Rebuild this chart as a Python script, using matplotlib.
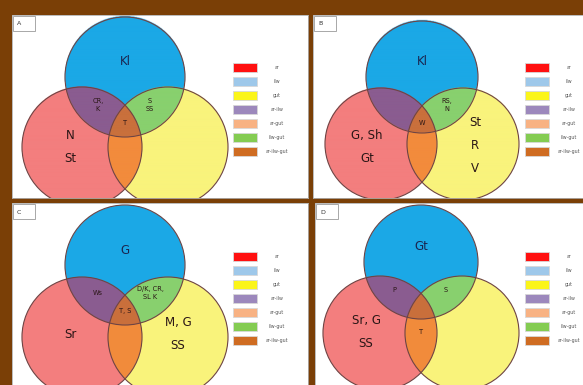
import matplotlib
matplotlib.use("Agg")
import matplotlib.pyplot as plt
from matplotlib.patches import Circle, Rectangle
from matplotlib.colors import ListedColormap
import numpy as np

W, H = 583, 385

# panel letters and the labels written in each Venn region
panel_names = ["A", "B", "C", "D"]
blue_text = ["Kl", "Kl", "G", "Gt"]
pink_text = ["N\nSt", "G, Sh\nGt", "Sr", "Sr, G\nSS"]
yellow_text = ["", "St\nR\nV", "M, G\nSS", ""]
purple_text = ["CR,\nK", "", "Ws", "P"]
green_text = ["S\nSS", "RS,\nN", "D/K, CR,\nSL K", "S"]
center_text = ["T", "W", "T, S", ""]
lower_text = ["", "", "", "T"]

legend_labels = ["ar", "ilw", "gut", "ar-ilw", "ar-gut", "ilw-gut", "ar-ilw-gut"]
legend_colors = ["#ff1010", "#9ec8ea", "#fbf51a", "#9c88bc",
                 "#f8b283", "#84cc52", "#cf6c22"]

# region fills: none, blue, pink, blue+pink, yellow, blue+yellow, pink+yellow, all
region_colors = ["#ffffff", "#1ba8e6", "#f37e7e", "#8a5c90",
                 "#f9f37c", "#88d06e", "#f28b3c", "#c9703c"]

# panel boxes in pixels (left, top, width, height)
panels = [(12, 15, 296, 183), (313, 15, 270, 183),
          (12, 203, 296, 182), (315, 203, 268, 182)]
# blue circle centre, radius and offsets of the lower circles per panel
geom = [(113, 62, 60, 43, 70), (109, 62, 56, 41, 67),
        (113, 62, 60, 43, 72), (106, 59, 57, 41, 71)]
legend_pos = [(221, 48), (212, 48), (221, 49), (210, 49)]

fig = plt.figure(figsize=(W / 100, H / 100), dpi=100)
fig.patch.set_facecolor("#7a3f06")
cmap = ListedColormap(region_colors)
txt = "#2a1616"

for k in range(4):
    px, py, pw, ph = panels[k]
    ax = fig.add_axes([px / W, 1 - (py + ph) / H, pw / W, ph / H])
    ax.set_xlim(0, pw)
    ax.set_ylim(ph, 0)
    ax.set_xticks([])
    ax.set_yticks([])
    for s in ax.spines.values():
        s.set_color("#b0b0b0")
        s.set_linewidth(0.6)

    bx, by, r, dx, dy = geom[k]
    centres = [(bx, by), (bx - dx, by + dy), (bx + dx, by + dy)]

    # rasterise the three circles into region codes
    xs = np.arange(0, pw, 0.5) + 0.25
    ys = np.arange(0, ph, 0.5) + 0.25
    X, Y = np.meshgrid(xs, ys)
    code = np.zeros(X.shape, dtype=int)
    for bit, (cx, cy) in zip([1, 2, 4], centres):
        code += bit * (((X - cx) ** 2 + (Y - cy) ** 2) <= r ** 2)
    ax.imshow(code, cmap=cmap, vmin=-0.5, vmax=7.5, extent=(0, pw, ph, 0),
              interpolation="bilinear", aspect="auto", zorder=1)
    for cx, cy in centres:
        ax.add_patch(Circle((cx, cy), r, fill=False, ec="#6e4444",
                            lw=0.8, zorder=2))

    # region labels
    big = dict(ha="center", va="center", color=txt, fontsize=8.5,
               linespacing=2.0, zorder=3)
    small = dict(ha="center", va="center", color=txt, fontsize=4.8,
                 linespacing=1.5, zorder=3)
    ax.text(bx, by - 15, blue_text[k], **dict(big, color="#1a2550"))
    ax.text(bx - 55, by + 70, pink_text[k], **big)
    ax.text(bx + 53, by + 69, yellow_text[k], **big)
    ax.text(bx - 27, by + 28, purple_text[k], **small)
    ax.text(bx + 25, by + 28, green_text[k], **small)
    ax.text(bx, by + 46, center_text[k], **small)
    ax.text(bx, by + 70, lower_text[k], **small)

    # panel letter box
    ax.add_patch(Rectangle((1, 1), 22, 15, fc="white", ec="#9a9a9a",
                           lw=0.6, zorder=4))
    ax.text(5, 9, panel_names[k], fontsize=4.5, ha="left", va="center",
            color="#333333", zorder=5)

    # colour key
    lx, ly = legend_pos[k]
    for i, (c, lab) in enumerate(zip(legend_colors, legend_labels)):
        ax.add_patch(Rectangle((lx, ly + i * 14), 24, 9, fc=c, ec="#d8d8d8",
                               lw=0.6, zorder=3))
        ax.text(lx + 44, ly + i * 14 + 4.5, lab, fontsize=3.4, ha="center",
                va="center", color="#555555", zorder=3)

fig.savefig("out.png", dpi=100, facecolor=fig.get_facecolor())
